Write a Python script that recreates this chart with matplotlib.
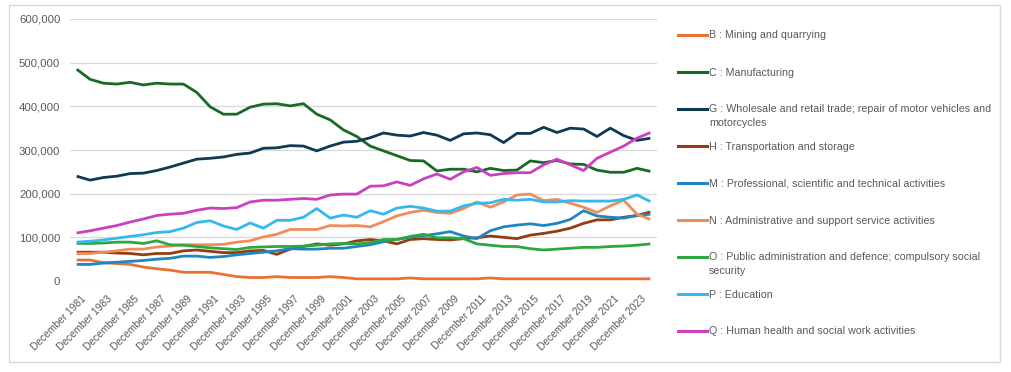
import matplotlib
matplotlib.use("Agg")
import matplotlib.pyplot as plt
from matplotlib.lines import Line2D
from matplotlib.patches import Rectangle
from matplotlib.ticker import FuncFormatter, MultipleLocator
from matplotlib.transforms import ScaledTranslation

plt.rcParams["font.family"] = ["Liberation Sans", "DejaVu Sans"]

years = list(range(1981, 2025))
x_labels = [f"December {y}" for y in years]

B = [48, 48, 42, 40, 38, 32, 28, 25, 20, 20, 20, 15, 10, 8, 8, 10, 8, 8, 8, 10, 8, 5,
     5, 5, 5, 7, 5, 5, 5, 5, 5, 7, 5, 5, 5, 5, 5, 5, 5, 5, 5, 5, 5, 5]
C = [485, 462, 453, 451, 455, 449, 453, 451, 451, 432, 399, 382, 382, 398, 405, 406, 401, 406, 382, 369, 346, 331,
     309, 298, 287, 276, 275, 252, 256, 256, 250, 258, 253, 254, 275, 271, 276, 268, 267, 254, 249, 249, 258, 251]
G = [240, 231, 237, 240, 246, 247, 253, 261, 270, 279, 281, 284, 290, 293, 304, 305, 310, 309, 298, 309, 318, 320,
     328, 339, 334, 332, 340, 334, 322, 337, 339, 335, 317, 338, 338, 352, 340, 350, 348, 331, 350, 333, 322, 327]
H = [66, 66, 66, 64, 63, 60, 63, 63, 69, 71, 68, 65, 65, 69, 70, 61, 73, 79, 85, 82, 85, 92,
     95, 92, 85, 95, 97, 95, 94, 97, 99, 103, 100, 97, 105, 109, 114, 121, 132, 140, 140, 146, 150, 158]
M = [38, 38, 41, 43, 45, 47, 50, 52, 57, 57, 54, 56, 60, 63, 66, 69, 74, 73, 73, 75, 75, 79,
     83, 90, 95, 100, 104, 108, 113, 103, 97, 115, 124, 128, 131, 127, 132, 141, 161, 149, 146, 144, 150, 153]
N = [63, 63, 66, 69, 73, 73, 78, 80, 83, 83, 83, 84, 89, 92, 101, 107, 118, 118, 118, 127, 126, 127,
     124, 136, 149, 157, 162, 157, 155, 166, 181, 169, 181, 197, 199, 184, 187, 178, 169, 157, 172, 185, 153, 141]
O = [86, 86, 87, 89, 89, 86, 92, 83, 82, 79, 76, 74, 72, 77, 78, 79, 79, 80, 82, 85, 86, 85,
     88, 95, 95, 102, 107, 99, 99, 97, 85, 82, 79, 79, 74, 71, 73, 75, 77, 77, 79, 80, 82, 85]
P = [89, 91, 94, 98, 102, 106, 111, 113, 121, 134, 138, 126, 118, 133, 121, 139, 139, 146, 166, 144, 151, 146,
     161, 153, 167, 171, 167, 160, 160, 172, 178, 179, 187, 185, 187, 181, 181, 184, 183, 183, 183, 187, 197, 182]
Q = [110, 115, 121, 127, 135, 142, 150, 153, 155, 162, 167, 166, 168, 181, 185, 185, 187, 189, 187, 197, 199, 199,
     217, 218, 227, 219, 234, 245, 233, 250, 260, 242, 246, 248, 248, 266, 279, 266, 253, 281, 295, 309, 327, 340]

series_labels = [
    "B : Mining and quarrying",
    "C : Manufacturing",
    "G : Wholesale and retail trade; repair of motor vehicles and\nmotorcycles",
    "H : Transportation and storage",
    "M : Professional, scientific and technical activities",
    "N : Administrative and support service activities",
    "O : Public administration and defence; compulsory social\nsecurity",
    "P : Education",
    "Q : Human health and social work activities",
]
series_values = [B, C, G, H, M, N, O, P, Q]
colors = ["#E97132", "#196B24", "#0F3A52", "#963C12", "#1F86C0",
          "#F08C5A", "#2EA83E", "#35B8F0", "#C940C0"]

W, Hh = 1012, 372
fig = plt.figure(figsize=(W / 100, Hh / 100), dpi=100)
ax = fig.add_axes([70 / W, 1 - 281 / Hh, (657 - 70) / W, (281 - 19) / Hh])

xs = list(range(len(years)))
for vals, col in zip(series_values, colors):
    ax.plot(xs, [v * 1000 for v in vals], color=col, lw=2.0, solid_joinstyle="round",
            solid_capstyle="butt")

ax.set_xlim(-0.5, len(years) - 0.5)
ax.set_ylim(0, 600000)
ax.yaxis.set_major_locator(MultipleLocator(100000))
ax.yaxis.set_major_formatter(FuncFormatter(lambda v, p: f"{int(v):,}"))
ax.grid(axis="y", color="#d9d9d9", lw=0.9)
ax.set_axisbelow(True)
for s in ax.spines.values():
    s.set_visible(False)
ax.tick_params(axis="both", length=0, colors="#595959")
ax.tick_params(axis="y", pad=7, labelsize=8.2)

ax.set_xticks(xs[::2])
ax.set_xticklabels(x_labels[::2], rotation=45, ha="right", va="top",
                   rotation_mode="anchor", color="#595959", fontsize=7.4)
ax.tick_params(axis="x", pad=9)
off = ScaledTranslation(4 / 100, 0, fig.dpi_scale_trans)
for lab in ax.get_xticklabels():
    lab.set_transform(lab.get_transform() + off)

# legend (drawn manually in figure pixels)
leg_y = [35, 72, 109, 146, 183, 220, 257, 294, 331]
for yy, lab, col in zip(leg_y, series_labels, colors):
    fy = 1 - yy / Hh
    fig.add_artist(Line2D([678 / W, 707 / W], [fy, fy], color=col, lw=2.2,
                          transform=fig.transFigure))
    fig.text(709 / W, 1 - (yy - 4.5) / Hh, lab, color="#595959", fontsize=7.7,
             ha="left", va="top", linespacing=1.4)

fig.add_artist(Rectangle((9 / W, 1 - 362 / Hh), (1000 - 9) / W, (362 - 5) / Hh,
                         transform=fig.transFigure, fill=False, edgecolor="#d9d9d9", lw=1))

fig.savefig("out.png", dpi=100)
